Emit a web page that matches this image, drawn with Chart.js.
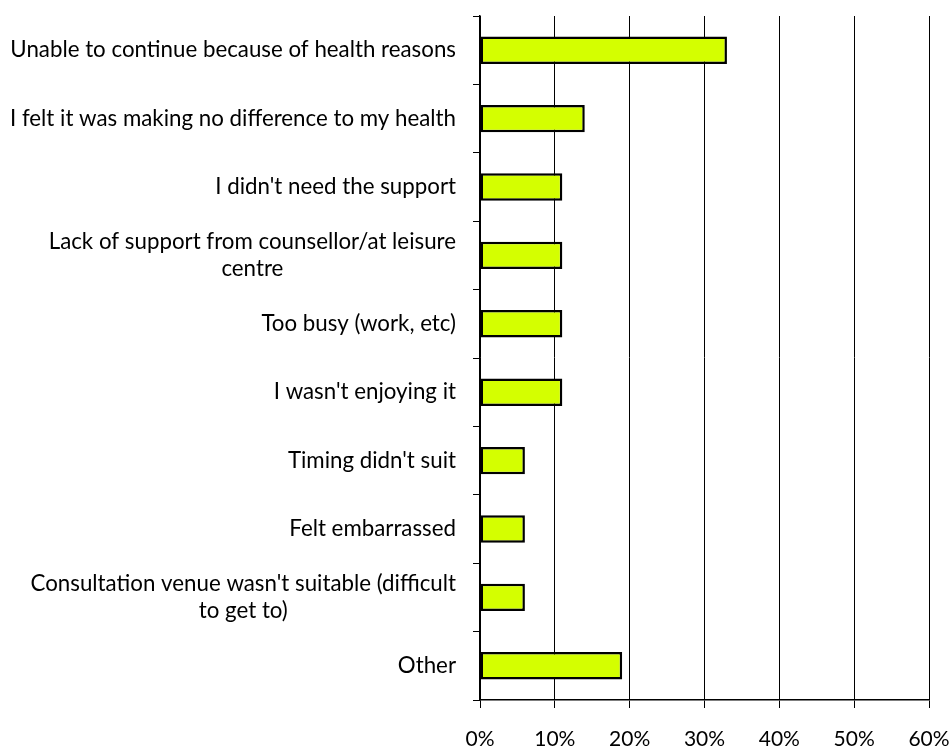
<!DOCTYPE html>
<html>
<head>
<meta charset="utf-8">
<script src="https://cdn.jsdelivr.net/npm/chart.js@4/dist/chart.umd.min.js"></script>
<style>
  html, body { margin: 0; padding: 0; background: #fff; }
  #wrap { width: 952px; height: 747px; }
</style>
</head>
<body>
<div id="wrap"><canvas id="reasonsChart" width="952" height="747"></canvas></div>
<script>
const categories = [
  "Unable to continue because of health reasons",
  "I felt it was making no difference to my health",
  "I didn't need the support",
  ["Lack of support from counsellor/at leisure", "centre"],
  "Too busy (work, etc)",
  "I wasn't enjoying it",
  "Timing didn't suit",
  "Felt embarrassed",
  ["Consultation venue wasn't suitable (difficult", "to get to)"],
  "Other"
];
const percentages = [33, 14, 11, 11, 11, 11, 6, 6, 6, 19];
const xTicks = [0, 10, 20, 30, 40, 50, 60];

const FONT = "Lato, 'Open Sans', sans-serif";
const LABEL_SIZE = 22.3;

// draws category labels: right edge fixed, extra lines centred under the first
const categoryLabels = {
  id: "categoryLabels",
  afterDraw(chart) {
    const ctx = chart.ctx;
    const yScale = chart.scales.y;
    const rightEdge = yScale.right - 24;
    const lineHeight = 27;
    ctx.save();
    ctx.font = LABEL_SIZE + "px " + FONT;
    ctx.fillStyle = "#000";
    ctx.textAlign = "center";
    ctx.textBaseline = "middle";
    categories.forEach((label, i) => {
      const lines = Array.isArray(label) ? label : [label];
      const widest = Math.max(...lines.map((l) => ctx.measureText(l).width));
      const cx = rightEdge - widest / 2;
      const yMid = yScale.getPixelForTick(i);
      const y0 = yMid - ((lines.length - 1) * lineHeight) / 2;
      lines.forEach((line, j) => ctx.fillText(line, cx, y0 + j * lineHeight));
    });
    ctx.restore();
  }
};

const ctx = document.getElementById("reasonsChart").getContext("2d");
new Chart(ctx, {
  type: "bar",
  data: {
    labels: categories,
    datasets: [
      {
        data: percentages,
        backgroundColor: "#d4ff00",
        borderColor: "#000",
        borderWidth: 2.5,
        borderSkipped: false,
        categoryPercentage: 0.8,
        barPercentage: 0.5
      }
    ]
  },
  options: {
    indexAxis: "y",
    responsive: false,
    animation: false,
    layout: { padding: { top: 16, right: 23, left: 0, bottom: 0 } },
    plugins: {
      legend: { display: false },
      tooltip: { enabled: false }
    },
    scales: {
      x: {
        min: 0,
        max: 60,
        afterBuildTicks: (scale) => {
          scale.ticks = xTicks.map((v) => ({ value: v }));
        },
        afterFit: (scale) => {
          scale.height = 47;
          scale.paddingLeft = 0;
          scale.paddingRight = 0;
        },
        grid: {
          color: "#000",
          lineWidth: 1,
          drawTicks: true,
          tickLength: 8,
          tickColor: "#000"
        },
        border: { display: true, color: "#000", width: 1.5 },
        ticks: {
          color: "#000",
          padding: 19,
          maxRotation: 0,
          font: { family: FONT, size: 21 },
          callback: (v) => v + "%"
        }
      },
      y: {
        afterFit: (scale) => { scale.width = 480; },
        grid: {
          offset: true,
          drawOnChartArea: false,
          drawTicks: true,
          tickLength: 7,
          tickColor: "#000"
        },
        border: { display: true, color: "#000", width: 1.5 },
        ticks: { display: false }
      }
    }
  },
  plugins: [categoryLabels]
});
</script>
</body>
</html>
